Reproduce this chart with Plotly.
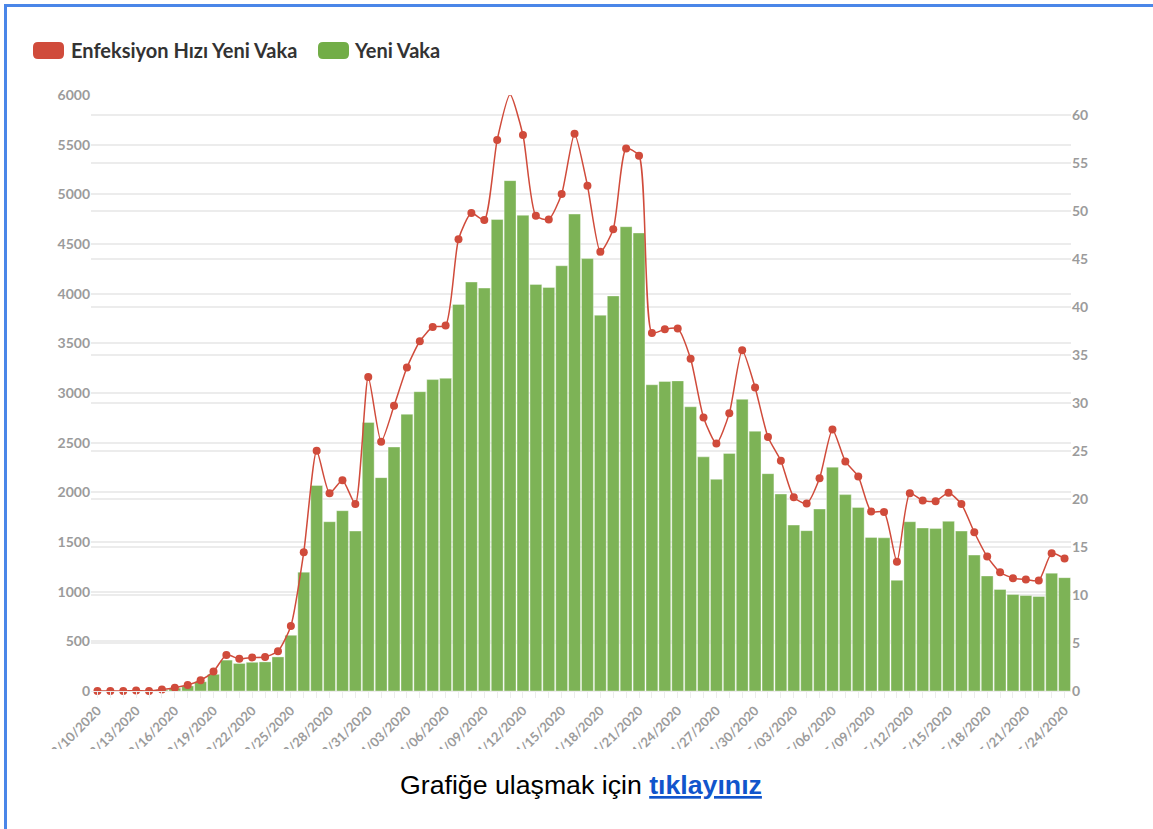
import pandas as pd
import plotly.graph_objects as go

# ---- data ----
dates = pd.date_range("2020-03-10", "2020-05-24", freq="D")

yeni_vaka = [0, 1, 0, 4, 1, 12, 29, 51, 93, 168,
             311, 277, 289, 293, 343, 561, 1196, 2069, 1704, 1815,
             1610, 2704, 2148, 2456, 2786, 3013, 3135, 3148, 3892, 4117,
             4056, 4747, 5138, 4789, 4093, 4062, 4281, 4801, 4353, 3783,
             3977, 4674, 4611, 3083, 3116, 3122, 2861, 2357, 2131, 2392,
             2936, 2615, 2188, 1983, 1670, 1614, 1832, 2253, 1977, 1848,
             1546, 1542, 1114, 1704, 1641, 1635, 1708, 1610, 1368, 1158,
             1022, 972, 961, 952, 1186, 1141]

enfeksiyon_hizi = [0, 0.01, 0, 0.05, 0.01, 0.15, 0.35, 0.62, 1.12, 2.03,
                   3.76, 3.35, 3.49, 3.54, 4.15, 6.78, 14.46, 25.02, 20.60, 21.95,
                   19.47, 32.70, 25.97, 29.70, 33.69, 36.43, 37.91, 38.07, 47.06, 49.78,
                   49.05, 57.40, 62.13, 57.91, 49.49, 49.12, 51.77, 58.05, 52.64, 45.74,
                   48.09, 56.52, 55.76, 37.28, 37.68, 37.75, 34.60, 28.50, 25.77, 28.92,
                   35.50, 31.62, 26.46, 23.98, 20.19, 19.52, 22.15, 27.24, 23.91, 22.35,
                   18.69, 18.65, 13.47, 20.60, 19.84, 19.77, 20.65, 19.47, 16.54, 14.00,
                   12.36, 11.75, 11.62, 11.51, 14.34, 13.80]

left_ticks = [0, 500, 1000, 1500, 2000, 2500, 3000, 3500, 4000, 4500, 5000, 5500, 6000]
right_ticks = [0, 5, 10, 15, 20, 25, 30, 35, 40, 45, 50, 55, 60]

name_line = "Enfeksiyon Hızı Yeni Vaka"
name_bar = "Yeni Vaka"
caption = "Grafiğe ulaşmak için <span style='color:#1155cc'><b><u>tıklayınız</u></b></span>"

# ---- layout geometry (pixels) ----
W, H = 1153, 829
ML, MR, MT, MB = 91, 82, 95, 138
PW, PH = W - ML - MR, H - MT - MB


def px_x(px):
    return (px - ML) / PW


def px_y(py):
    return (H - MB - py) / PH


RED = "#d04b3b"
GREEN = "#7db356"
TICK_GRAY = "#9b9b9b"
GRID = "#ececec"
BLUE = "#4a86e8"

fig = go.Figure()
fig.add_trace(go.Bar(
    x=dates, y=yeni_vaka, name=name_bar, yaxis="y", showlegend=False,
    marker=dict(color=GREEN, line=dict(color="rgba(255,255,255,0.6)", width=0.6)),
))
fig.add_trace(go.Scatter(
    x=dates, y=enfeksiyon_hizi, name=name_line, yaxis="y2", showlegend=False,
    mode="lines+markers", line=dict(color=RED, width=1.5, shape="spline", smoothing=0.6),
    marker=dict(color=RED, size=8), cliponaxis=False,
))

tickfont = dict(family="Lato", size=14, color=TICK_GRAY, weight="bold")


def rounded_rect(x0, y0, x1, y1, r):
    X = px_x
    Y = px_y
    return (f"M {X(x0 + r)},{Y(y0)} L {X(x1 - r)},{Y(y0)} "
            f"Q {X(x1)},{Y(y0)} {X(x1)},{Y(y0 + r)} L {X(x1)},{Y(y1 - r)} "
            f"Q {X(x1)},{Y(y1)} {X(x1 - r)},{Y(y1)} L {X(x0 + r)},{Y(y1)} "
            f"Q {X(x0)},{Y(y1)} {X(x0)},{Y(y1 - r)} L {X(x0)},{Y(y0 + r)} "
            f"Q {X(x0)},{Y(y0)} {X(x0 + r)},{Y(y0)} Z")


legend_font = dict(family="Lato", size=20, color="#333333", weight="bold")

fig.update_layout(
    width=W, height=H,
    margin=dict(l=ML, r=MR, t=MT, b=MB),
    paper_bgcolor="white", plot_bgcolor="white",
    bargap=0.08,
    showlegend=False,
    xaxis=dict(
        type="date", range=["2020-03-09 12:00", "2020-05-24 12:00"],
        tick0="2020-03-10", dtick=3 * 86400000, tickformat="%-m/%d/%Y",
        tickangle=-45, tickfont=dict(family="Lato", size=13, color=TICK_GRAY, weight="bold"),
        ticks="outside", ticklen=6, tickcolor=GRID,
        minor=dict(dtick=86400000, ticks="outside", ticklen=6, tickcolor=GRID, showgrid=False),
        showgrid=False, showline=True, linecolor=GRID, zeroline=False,
    ),
    yaxis=dict(
        range=[0, 6000], tickvals=left_ticks, tickfont=tickfont,
        showgrid=True, gridcolor=GRID, gridwidth=1.5, zeroline=False, ticks="",
    ),
    yaxis2=dict(
        range=[0, 62.08], tickvals=right_ticks, tickfont=tickfont,
        overlaying="y", side="right",
        showgrid=True, gridcolor=GRID, gridwidth=1.5, zeroline=False, ticks="",
    ),
    annotations=[
        dict(text=name_line, xref="paper", yref="paper", x=px_x(69), y=px_y(50),
             xanchor="left", yanchor="middle", showarrow=False, font=legend_font),
        dict(text=name_bar, xref="paper", yref="paper", x=px_x(352), y=px_y(50),
             xanchor="left", yanchor="middle", showarrow=False, font=legend_font),
        dict(text=caption, xref="paper", yref="paper", x=px_x(581), y=px_y(785),
             xanchor="center", yanchor="middle", showarrow=False,
             font=dict(family="Liberation Sans, Arial", size=26.7, color="#000000")),
    ],
    shapes=[
        # legend swatches
        dict(type="path", xref="paper", yref="paper", path=rounded_rect(33, 42, 64, 59, 5),
             fillcolor=RED, line=dict(width=0), layer="above"),
        dict(type="path", xref="paper", yref="paper", path=rounded_rect(318, 42, 349, 59, 5),
             fillcolor="#72ad47", line=dict(width=0), layer="above"),
        # clip area below the axis labels
        dict(type="rect", xref="paper", yref="paper", x0=px_x(0), x1=px_x(W),
             y0=px_y(749), y1=px_y(768), fillcolor="white", line=dict(width=0), layer="above"),
        # blue frame
        dict(type="line", xref="paper", yref="paper", x0=px_x(4), x1=px_x(W + 2),
             y0=px_y(5.5), y1=px_y(5.5), line=dict(color=BLUE, width=3), layer="above"),
        dict(type="line", xref="paper", yref="paper", x0=px_x(5.5), x1=px_x(5.5),
             y0=px_y(4), y1=px_y(H + 2), line=dict(color=BLUE, width=3), layer="above"),
    ],
)

fig.write_html("out.html",
               config={"displayModeBar": False},
               post_script="document.body.style.margin='0px';document.body.style.overflow='hidden';")
